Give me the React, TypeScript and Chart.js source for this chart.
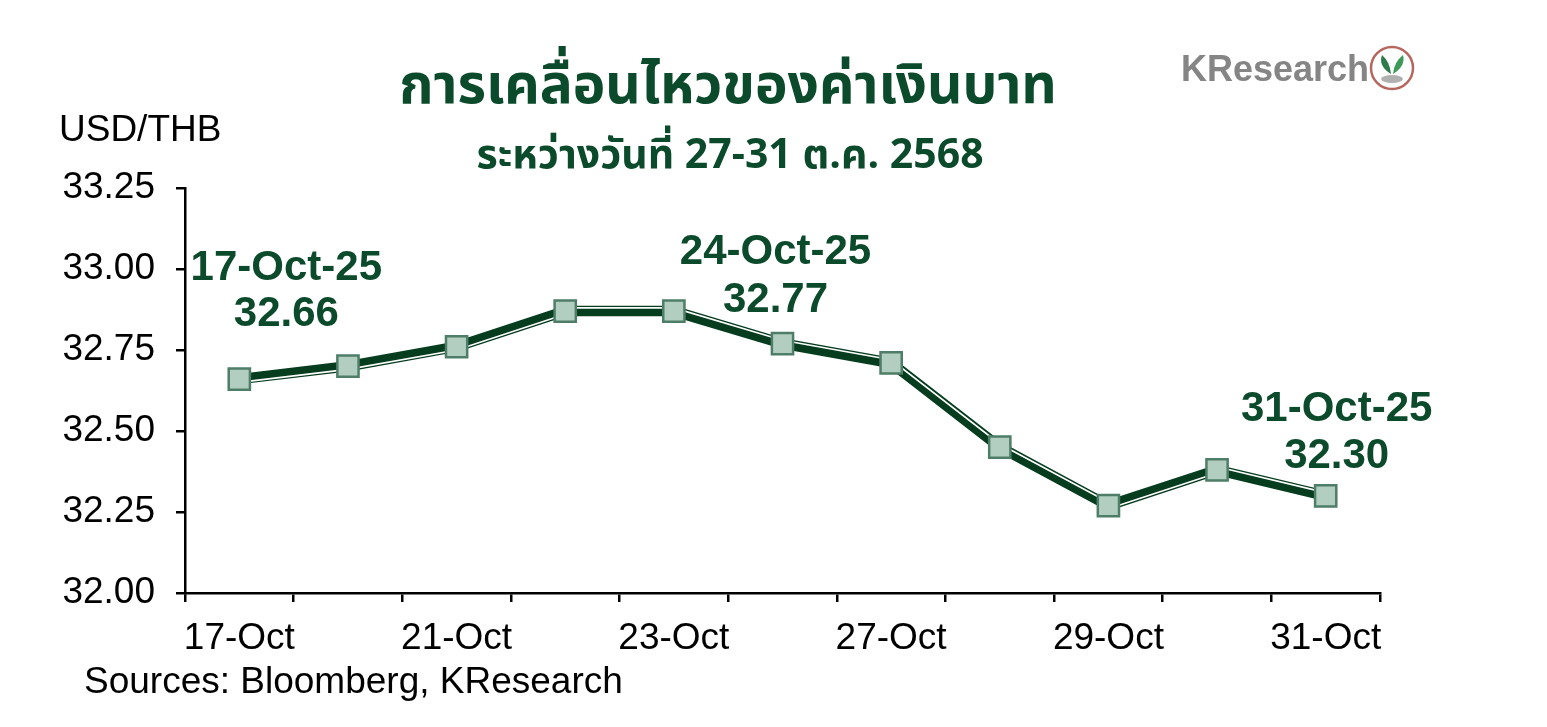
import React, { useEffect, useRef } from "react";
import { Chart, registerables } from "chart.js";

Chart.register(...registerables);

const categories = ["17-Oct", "20-Oct", "21-Oct", "22-Oct", "23-Oct", "24-Oct", "27-Oct", "28-Oct", "29-Oct", "30-Oct", "31-Oct"];
const fullDates = ["17-Oct-25", "20-Oct-25", "21-Oct-25", "22-Oct-25", "23-Oct-25", "24-Oct-25", "27-Oct-25", "28-Oct-25", "29-Oct-25", "30-Oct-25", "31-Oct-25"];
const usdThb = [32.66, 32.70, 32.76, 32.87, 32.87, 32.77, 32.71, 32.45, 32.27, 32.38, 32.30];
const yTicks = [32.0, 32.25, 32.5, 32.75, 33.0, 33.25];
const titleText = "การเคลื่อนไหวของค่าเงินบาท";
const subtitleText = "ระหว่างวันที่ 27-31 ต.ค. 2568";
const yAxisTitle = "USD/THB";
const sourceText = "Sources: Bloomberg, KResearch";
const logoText = "KResearch";
// annotated points: index, dx, dy of first line, dy of second line
const annotations = [
  { idx: 0, dx: 47, dy1: -111, dy2: -65 },
  { idx: 5, dx: -7, dy1: -91, dy2: -43 },
  { idx: 10, dx: 11, dy1: -86, dy2: -39 },
];

const DARK = "#0b4a2a";
const LINE = "#073d1f";
const FONT = "'Liberation Sans', Arial, sans-serif";
const THAI_FONT = "'Noto Sans Thai', 'Noto Sans Thai Looped', Tahoma, 'Liberation Sans', sans-serif";
const WHITE_OFFSET = 3.2;

const offsetLinePlugin = {
  id: "offsetLine",
  beforeDatasetDraw(chart: any, args: any) {
    if (args.index === 1 || args.index === 2) {
      chart.ctx.save();
      chart.ctx.translate(0, args.index === 1 ? WHITE_OFFSET : -WHITE_OFFSET);
    }
  },
  afterDatasetDraw(chart: any, args: any) {
    if (args.index === 1 || args.index === 2) chart.ctx.restore();
  },
};

const textPlugin = {
  id: "texts",
  afterDraw(chart: any) {
    const ctx = chart.ctx;
    ctx.save();
    // title
    ctx.fillStyle = DARK;
    ctx.textAlign = "center";
    ctx.textBaseline = "alphabetic";
    ctx.font = `bold 55px ${THAI_FONT}`;
    ctx.fillText(titleText, 728, 103);
    ctx.font = `bold 41px ${THAI_FONT}`;
    ctx.fillText(subtitleText, 730, 168);

    // y axis title
    ctx.fillStyle = "#000";
    ctx.textAlign = "left";
    ctx.font = `37px ${FONT}`;
    ctx.fillText(yAxisTitle, 59, 141);
    // source
    ctx.fillText(sourceText, 84, 693);

    // logo
    ctx.fillStyle = "#858585";
    ctx.font = `bold 36px ${FONT}`;
    ctx.fillText(logoText, 1181, 81);
    const cx = 1392, cy = 68, r = 21;
    ctx.beginPath();
    ctx.arc(cx, cy, r, 0, Math.PI * 2);
    ctx.fillStyle = "#ffffff";
    ctx.fill();
    ctx.lineWidth = 2.5;
    ctx.strokeStyle = "#b5675f";
    ctx.stroke();
    // leaves
    ctx.fillStyle = "#2f7a4a";
    ctx.beginPath();
    ctx.moveTo(cx - 1, cy + 6);
    ctx.quadraticCurveTo(cx - 14, cy - 2, cx - 10, cy - 13);
    ctx.quadraticCurveTo(cx - 2, cy - 6, cx - 1, cy + 6);
    ctx.fill();
    ctx.fillStyle = "#3f9a5a";
    ctx.beginPath();
    ctx.moveTo(cx + 1, cy + 6);
    ctx.quadraticCurveTo(cx + 14, cy - 2, cx + 11, cy - 13);
    ctx.quadraticCurveTo(cx + 2, cy - 6, cx + 1, cy + 6);
    ctx.fill();
    ctx.fillStyle = "#b0b0b0";
    ctx.beginPath();
    ctx.ellipse(cx, cy + 11, 11, 4, 0, 0, Math.PI * 2);
    ctx.fill();

    // annotations
    const meta = chart.getDatasetMeta(3);
    ctx.fillStyle = DARK;
    ctx.textAlign = "center";
    ctx.textBaseline = "middle";
    ctx.font = `bold 42px ${FONT}`;
    annotations.forEach((a) => {
      const p = meta.data[a.idx];
      if (!p) return;
      ctx.fillText(fullDates[a.idx], p.x + a.dx, p.y + a.dy1);
      ctx.fillText(usdThb[a.idx].toFixed(2), p.x + a.dx, p.y + a.dy2);
    });
    ctx.restore();
  },
};

export default function App() {
  const ref = useRef<HTMLCanvasElement>(null);
  useEffect(() => {
    const chart = new Chart(ref.current as HTMLCanvasElement, {
      type: "line",
      data: {
        labels: categories,
        datasets: [
          {
            data: usdThb,
            borderColor: LINE,
            borderWidth: 10.5,
            pointRadius: 0,
            fill: false,
            tension: 0,
            order: 4,
          },
          {
            // white stripe below on rising segments
            data: usdThb,
            borderColor: "#ffffff",
            borderWidth: 1.6,
            pointRadius: 0,
            fill: false,
            tension: 0,
            order: 3,
            segment: {
              borderColor: (c: any) => (c.p1.parsed.y > c.p0.parsed.y ? "#ffffff" : "rgba(0,0,0,0)"),
            },
          },
          {
            // white stripe above on flat / falling segments
            data: usdThb,
            borderColor: "#ffffff",
            borderWidth: 1.6,
            pointRadius: 0,
            fill: false,
            tension: 0,
            order: 2,
            segment: {
              borderColor: (c: any) => (c.p1.parsed.y > c.p0.parsed.y ? "rgba(0,0,0,0)" : "#ffffff"),
            },
          },
          {
            data: usdThb,
            showLine: false,
            pointStyle: "rect",
            pointRadius: 15,
            pointBackgroundColor: "#b2cec0",
            pointBorderColor: "#4e7e67",
            pointBorderWidth: 2.5,
            order: 1,
          },
        ],
      },
      options: {
        responsive: false,
        animation: false,
        events: [],
        layout: { padding: { left: 0, right: 167, top: 188, bottom: 0 } },
        plugins: { legend: { display: false }, tooltip: { enabled: false }, title: { display: false } },
        scales: {
          x: {
            type: "category",
            offset: true,
            grid: { offset: true, drawOnChartArea: false, drawTicks: true, tickLength: 9, tickColor: "#000", lineWidth: 2.5 },
            border: { display: true, color: "#000", width: 2.5 },
            ticks: {
              autoSkip: false,
              maxRotation: 0,
              padding: 15,
              color: "#000",
              font: { family: FONT, size: 37 },
              callback: (v: any, i: number) => (i % 2 === 0 ? categories[i] : ""),
            },
            afterFit: (s: any) => { s.height = 134; },
          },
          y: {
            min: yTicks[0],
            max: yTicks[yTicks.length - 1],
            afterBuildTicks: (s: any) => { s.ticks = yTicks.map((v) => ({ value: v })); },
            grid: { drawOnChartArea: false, drawTicks: true, tickLength: 9, tickColor: "#000", lineWidth: 2.5 },
            border: { display: true, color: "#000", width: 2.5 },
            ticks: {
              padding: 21,
              color: "#000",
              font: { family: FONT, size: 37 },
              callback: (v: any) => Number(v).toFixed(2),
            },
            afterFit: (s: any) => { s.width = 185; },
          },
        },
      },
      plugins: [offsetLinePlugin, textPlugin],
    });
    return () => chart.destroy();
  }, []);
  return (
    <div style={{ position: "fixed", left: 0, top: 0, width: 1547, height: 727, background: "#fff" }}>
      <canvas ref={ref} width={1547} height={727} />
    </div>
  );
}
